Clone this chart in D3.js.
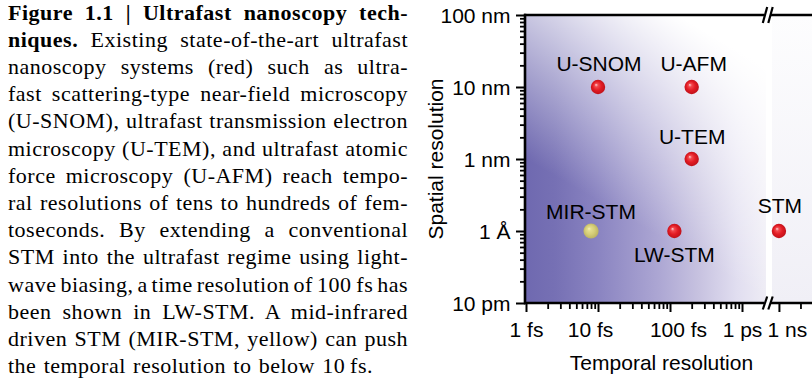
<!DOCTYPE html>
<html>
<head>
<meta charset="utf-8">
<script src="https://cdn.jsdelivr.net/npm/d3@7"></script>
<style>
  html, body { margin: 0; padding: 0; background: #fff; overflow: hidden; }
  svg { display: block; }
  .cap text { font-family: "Liberation Serif", "Times New Roman", serif; font-size: 22px; fill: #000; white-space: pre; letter-spacing: 0.5px; }
  .chart text { font-family: "Liberation Sans", Arial, sans-serif; font-size: 21px; fill: #000; }
</style>
</head>
<body>
<svg id="fig" width="812" height="379"></svg>
<script>
// ---------------- caption text (one entry per typeset line: [text, bold]) ----------------
const captionLines = [
  [["Figure 1.1 | Ultrafast nanoscopy tech-", true]],
  [["niques.", true], [" Existing state-of-the-art ultrafast", false]],
  [["nanoscopy systems (red) such as ultra-", false]],
  [["fast scattering-type near-field microscopy", false]],
  [["(U-SNOM), ultrafast transmission electron", false]],
  [["microscopy (U-TEM), and ultrafast atomic", false]],
  [["force microscopy (U-AFM) reach tempo-", false]],
  [["ral resolutions of tens to hundreds of fem-", false]],
  [["toseconds. By extending a conventional", false]],
  [["STM into the ultrafast regime using light-", false]],
  [["wave biasing, a time resolution of 100\u2009fs has", false]],
  [["been shown in LW-STM. A mid-infrared", false]],
  [["driven STM (MIR-STM, yellow) can push", false]],
  [["the temporal resolution to below 10\u2009fs.", false]]
];

// ---------------- chart data ----------------
const techniques  = ["U-SNOM", "U-AFM", "U-TEM", "MIR-STM", "LW-STM", "STM"];
const temporalFs  = [10, 200, 200, 8, 115, 1e6];      // femtoseconds
const spatialNm   = [10, 10, 1, 0.1, 0.1, 0.1];       // nanometres
const systemGroup = ["ultrafast", "ultrafast", "ultrafast", "mir", "ultrafast", "conventional"];

const yTickValues = [0.01, 0.1, 1, 10, 100];
const yTickLabels = ["10 pm", "1 Å", "1 nm", "10 nm", "100 nm"];
const xTickValues = [1, 10, 100, 1000];
const xTickLabels = ["1 fs", "10 fs", "100 fs", "1 ps"];
const xFarTickValues = [1e6];
const xFarTickLabels = ["1 ns"];

// ---------------- drawing ----------------
const svg = d3.select("#fig");
const defs = svg.append("defs");

// caption, justified line by line
const cap = svg.append("g").attr("class", "cap");
const capX0 = 8, capX1 = 408, capY0 = 19.5, capStep = 27.2, lastLineEnd = 373;
captionLines.forEach((segs, i) => {
  const t = cap.append("text").attr("x", capX0).attr("y", capY0 + i * capStep);
  segs.forEach(([s, b]) => t.append("tspan").attr("font-weight", b ? "bold" : "normal").text(s));
  const natural = t.node().getComputedTextLength();
  const full = segs.map(d => d[0]).join("");
  const nSpaces = (full.match(/ /g) || []).length;
  const target = (i === captionLines.length - 1 ? lastLineEnd : capX1) - capX0;
  if (nSpaces) t.attr("word-spacing", ((target - natural) / nSpaces).toFixed(2));
});

// plot geometry
const pL = 526, pT = 15, pB = 303, breakL = 764, breakR = 771, pR = 812;
const y  = d3.scaleLog().domain([0.01, 100]).range([pB, pT]);
const xL = d3.scaleLog().domain([1, 2154]).range([pL, 766]);
const xR = d3.scaleLog().domain([0.8e6, 2.9e6]).range([772, pR]);
const xOf = v => v >= 1e5 ? xR(v) : xL(v);

const chart = svg.append("g").attr("class", "chart");

// background shading
const gH = defs.append("linearGradient").attr("id", "shadeH")
  .attr("gradientUnits", "userSpaceOnUse").attr("x1", pL).attr("y1", 0).attr("x2", 766).attr("y2", 0);
[[0, "#6f69b0"], [0.12, "#7670b4"], [0.3, "#8a84c1"], [0.55, "#aca6d3"], [0.72, "#c7c2e0"], [0.88, "#e1def0"], [1, "#eeecf5"]]
  .forEach(([o, c]) => gH.append("stop").attr("offset", o).attr("stop-color", c));
const gD = defs.append("linearGradient").attr("id", "shadeD")
  .attr("gradientUnits", "userSpaceOnUse").attr("x1", 527).attr("y1", 160).attr("x2", 628).attr("y2", -13.5);
gD.append("stop").attr("offset", 0).attr("stop-color", "#fff").attr("stop-opacity", 0);
gD.append("stop").attr("offset", 1).attr("stop-color", "#fff").attr("stop-opacity", 1);
const gR = defs.append("linearGradient").attr("id", "shadeR").attr("x1", 0).attr("y1", 0).attr("x2", 0).attr("y2", 1);
gR.append("stop").attr("offset", 0).attr("stop-color", "#fdfdfe");
gR.append("stop").attr("offset", 1).attr("stop-color", "#f0eff6");

chart.append("rect").attr("x", pL).attr("y", pT).attr("width", 766 - pL).attr("height", pB - pT).attr("fill", "url(#shadeH)");
chart.append("rect").attr("x", pL).attr("y", pT).attr("width", 766 - pL).attr("height", pB - pT).attr("fill", "url(#shadeD)");
chart.append("rect").attr("x", 772).attr("y", pT).attr("width", pR - 772).attr("height", pB - pT).attr("fill", "url(#shadeR)");

// minor tick values
const decades = (from, to) => { const out = []; for (let e = from; e < to; e++) for (let m = 2; m <= 9; m++) out.push(+(m * Math.pow(10, e)).toPrecision(3)); return out; };
const yMinor = decades(-2, 2);
const xMinor = decades(0, 3);

function styleTicks(g, w) {
  g.select(".domain").remove();
  g.selectAll(".tick line").attr("stroke", "#000").attr("stroke-width", w);
}

// y axis
chart.append("g").attr("transform", `translate(${pL - 1},0)`)
  .call(d3.axisLeft(y).tickValues(yMinor).tickSize(5).tickFormat(""))
  .call(g => styleTicks(g, 1.8));
const yAx = chart.append("g").attr("transform", `translate(${pL - 1},0)`)
  .call(d3.axisLeft(y).tickValues(yTickValues).tickSize(9).tickFormat((d, i) => yTickLabels[i]))
  .call(g => styleTicks(g, 2));
yAx.selectAll("text").attr("x", -14.5).attr("dy", "0.37em");

// x axis (two segments around the break)
chart.append("g").attr("transform", `translate(0,${pB + 1})`)
  .call(d3.axisBottom(xL).tickValues(xMinor).tickSize(5).tickFormat(""))
  .call(g => styleTicks(g, 1.8));
const xNudge = { 10: -8, 100: 8 };
const xAx = chart.append("g").attr("transform", `translate(0,${pB + 1})`)
  .call(d3.axisBottom(xL).tickValues(xTickValues).tickSize(8).tickFormat((d, i) => xTickLabels[i]))
  .call(g => styleTicks(g, 2));
xAx.selectAll(".tick text").attr("y", 33).attr("dy", null).attr("dx", d => xNudge[d] || 0);
chart.append("g").attr("transform", `translate(0,${pB + 1})`)
  .call(d3.axisBottom(xR).tickValues([2e6]).tickSize(5).tickFormat(""))
  .call(g => styleTicks(g, 1.8));
const xAxR = chart.append("g").attr("transform", `translate(0,${pB + 1})`)
  .call(d3.axisBottom(xR).tickValues(xFarTickValues).tickSize(8).tickFormat((d, i) => xFarTickLabels[i]))
  .call(g => styleTicks(g, 2));
xAxR.selectAll(".tick text").attr("y", 33).attr("dy", null).attr("dx", 8);
chart.selectAll(".tick text").style("font-family", "'Liberation Sans', Arial, sans-serif").style("font-size", "21px").attr("fill", "#000");

// frame lines with break marks
const lineW = 2.6;
chart.append("line").attr("x1", pL - 1).attr("x2", pL - 1).attr("y1", pT - 1.3).attr("y2", pB + 1.3).attr("stroke", "#000").attr("stroke-width", lineW);
[pT, pB].forEach(yy => {
  chart.append("line").attr("x1", pL - 2).attr("x2", breakL).attr("y1", yy).attr("y2", yy).attr("stroke", "#000").attr("stroke-width", lineW);
  chart.append("line").attr("x1", breakR).attr("x2", pR).attr("y1", yy).attr("y2", yy).attr("stroke", "#000").attr("stroke-width", lineW);
  const hh = yy === pT ? 8 : 6.5;
  [765, 770.5].forEach(cx => {
    chart.append("line").attr("x1", cx - 2.2).attr("y1", yy + hh).attr("x2", cx + 2.2).attr("y2", yy - hh)
      .attr("stroke", "#000").attr("stroke-width", 2.2);
  });
});

// axis titles
chart.append("text").attr("x", 661.5).attr("y", 370).attr("text-anchor", "middle").text("Temporal resolution");
chart.append("text").attr("transform", `translate(443,${(pT + pB) / 2}) rotate(-90)`).attr("text-anchor", "middle").text("Spatial resolution");

// sphere shading
function sphere(id, hi, mid, body, edge) {
  const g = defs.append("radialGradient").attr("id", id).attr("cx", "50%").attr("cy", "50%").attr("r", "55%").attr("fx", "36%").attr("fy", "34%");
  [[0, hi], [0.22, mid], [0.55, body], [1, edge]].forEach(([o, c]) => g.append("stop").attr("offset", o).attr("stop-color", c));
}
sphere("ballRed", "#ffd6d6", "#f2484d", "#e31c24", "#b90f18");
sphere("ballYellow", "#f6f2b4", "#e3dc8c", "#d6ce78", "#b7ae5e");
const ballFill = { ultrafast: "url(#ballRed)", conventional: "url(#ballRed)", mir: "url(#ballYellow)" };
const ballR = { ultrafast: 7.2, conventional: 7.2, mir: 7.6 };

chart.append("g").selectAll("circle").data(techniques).join("circle")
  .attr("cx", (d, i) => xOf(temporalFs[i]))
  .attr("cy", (d, i) => y(spatialNm[i]))
  .attr("r", (d, i) => ballR[systemGroup[i]])
  .attr("fill", (d, i) => ballFill[systemGroup[i]]);

// point labels (vertical offset from the marker, horizontal nudge)
const labelDy = { "U-SNOM": -16.5, "U-AFM": -16.5, "U-TEM": -14.6, "MIR-STM": -11.7, "LW-STM": 31, "STM": -18.4 };
const labelDx = { "U-SNOM": 1, "U-AFM": 2, "U-TEM": 0.5, "MIR-STM": 0, "LW-STM": 0, "STM": 1 };
chart.append("g").selectAll("text").data(techniques).join("text")
  .attr("x", (d, i) => xOf(temporalFs[i]) + labelDx[d])
  .attr("y", (d, i) => y(spatialNm[i]) + labelDy[d])
  .attr("text-anchor", "middle")
  .text(d => d);
</script>
</body>
</html>
